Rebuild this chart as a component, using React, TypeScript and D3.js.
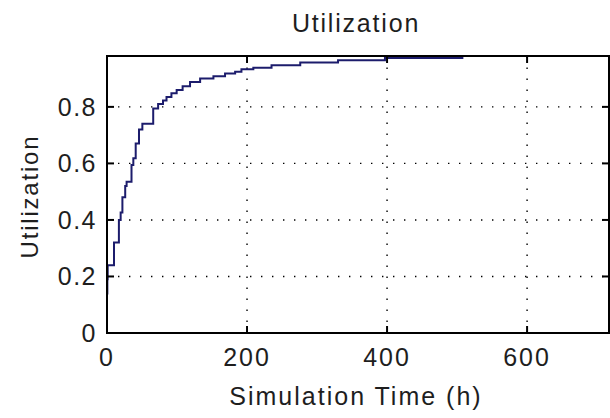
import React from "react";
import * as d3 from "d3";

const title = "Utilization";
const xLabel = "Simulation Time (h)";
const yLabel = "Utilization";

const timeH = [0, 0.5, 1, 10, 17, 19.5, 22, 26, 28, 35, 37.6, 41, 45.7, 50.5, 66, 73, 80, 85, 92, 99.5, 108, 118.6, 133, 152, 168.6, 183, 192, 209, 235, 276, 330, 397, 509];
const utilization = [0.14, 0.19, 0.24, 0.32, 0.40, 0.426, 0.48, 0.52, 0.535, 0.594, 0.618, 0.67, 0.72, 0.74, 0.794, 0.81, 0.823, 0.835, 0.848, 0.86, 0.873, 0.888, 0.90, 0.908, 0.918, 0.924, 0.933, 0.938, 0.947, 0.957, 0.965, 0.973, 0.973];

const xTicks = [0, 200, 400, 600];
const yTicks = [0, 0.2, 0.4, 0.6, 0.8];
const xDomain = [0, 717];
const yDomain = [0, 0.98];

const W = 610, H = 418;
const L = 107, T = 56, R = 609, B = 333;
const FONT = "'Liberation Sans', Arial, sans-serif";
const TXT = "#1e1e1e";

export default function App() {
  const x = d3.scaleLinear().domain(xDomain).range([L, R]);
  const y = d3.scaleLinear().domain(yDomain).range([B, T]);
  const pts = timeH.map((t, i) => [t, utilization[i]] as [number, number]);
  const line = d3.line<[number, number]>()
    .x(d => x(d[0]))
    .y(d => y(d[1]))
    .curve(d3.curveStepAfter);
  const tickLen = 7;
  return (
    <svg width={W} height={H} style={{ position: "absolute", left: 0, top: 0, background: "#fff" }}>
      <rect x={0} y={0} width={W} height={H} fill="#fff" />
      {yTicks.filter(v => v > 0).map(v => (
        <line key={"gy" + v} x1={L} x2={R} y1={y(v)} y2={y(v)} stroke="#000" strokeWidth={1.4} strokeDasharray="1.4,9.6" />
      ))}
      {xTicks.filter(v => v > 0).map(v => (
        <line key={"gx" + v} x1={x(v)} x2={x(v)} y1={B} y2={T} stroke="#000" strokeWidth={1.4} strokeDasharray="1.4,9.6" />
      ))}
      <path d={line(pts) || ""} fill="none" stroke="#1c1c6c" strokeWidth={2} />
      <rect x={L} y={T} width={R - L} height={B - T} fill="none" stroke="#000" strokeWidth={2} />
      {yTicks.map(v => (
        <g key={"ty" + v}>
          <line x1={L} x2={L + tickLen} y1={y(v)} y2={y(v)} stroke="#000" strokeWidth={2} />
          <line x1={R} x2={R - tickLen} y1={y(v)} y2={y(v)} stroke="#000" strokeWidth={2} />
          <text x={L - 10} y={y(v) + 9} textAnchor="end" fontFamily={FONT} fontSize={25} letterSpacing={1.5} fill={TXT}>{String(v)}</text>
        </g>
      ))}
      {xTicks.map(v => (
        <g key={"tx" + v}>
          <line x1={x(v)} x2={x(v)} y1={B} y2={B - tickLen} stroke="#000" strokeWidth={2} />
          <line x1={x(v)} x2={x(v)} y1={T} y2={T + tickLen} stroke="#000" strokeWidth={2} />
          <text x={x(v)} y={366} textAnchor="middle" fontFamily={FONT} fontSize={25} letterSpacing={2} fill={TXT}>{String(v)}</text>
        </g>
      ))}
      <text x={356} y={32} textAnchor="middle" fontFamily={FONT} fontSize={25} letterSpacing={1.8} fill={TXT}>{title}</text>
      <text x={356} y={405} textAnchor="middle" fontFamily={FONT} fontSize={25} letterSpacing={2} fill={TXT}>{xLabel}</text>
      <text transform={`translate(38,${(T + B) / 2 + 2}) rotate(-90)`} textAnchor="middle" fontFamily={FONT} fontSize={24} letterSpacing={1.8} fill={TXT}>{yLabel}</text>
    </svg>
  );
}
